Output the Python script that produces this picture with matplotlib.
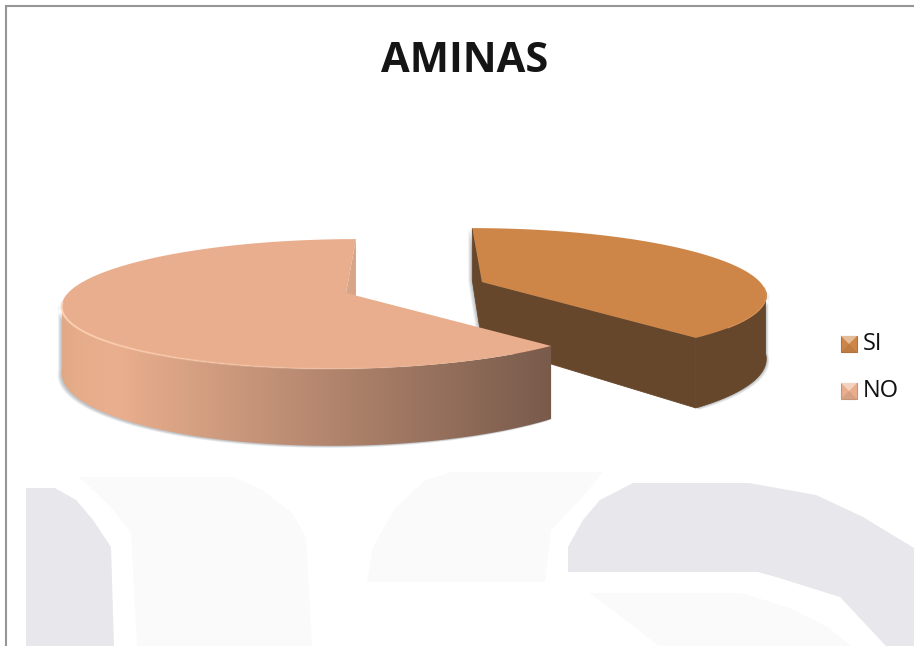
import numpy as np
import matplotlib
matplotlib.use("Agg")
import matplotlib.pyplot as plt
from matplotlib.colors import to_rgb
from matplotlib.patches import Polygon, Rectangle

# data
categories = ["SI", "NO"]
values = [39, 61]
top_colors = ["#CE8648", "#E9AE8D"]
title = "AMINAS"

# pie geometry (pixels)
centers = [(482, 282), (346, 293)]
heights = [61, 64]
A, B, P, VX = 278, 63, 0.169, 415
START = 90
GAP = 3

# watermark behind the chart
wm_dark = "#E7E7EC"
wm_light = "#FAFAFB"
wm_shapes = [
    (wm_dark, [(26, 488), (55, 488), (76, 500), (93, 520), (111, 547), (114, 646), (26, 646)]),
    (wm_light, [(79, 477), (233, 477), (262, 490), (292, 513), (306, 537), (312, 646), (137, 646), (131, 533), (111, 507)]),
    (wm_light, [(452, 472), (603, 472), (577, 503), (551, 530), (545, 582), (367, 582), (373, 547), (396, 507), (426, 480)]),
    (wm_dark, [(568, 572), (568, 547), (583, 520), (600, 500), (633, 483), (749, 483), (816, 495), (863, 517), (914, 548), (914, 646), (886, 646), (840, 597), (776, 577), (758, 572)]),
    (wm_light, [(589, 593), (741, 593), (787, 607), (828, 627), (851, 646), (659, 646), (612, 610)]),
]


def project(center, theta, height):
    # perspective view of a point on the pie rim
    theta = np.radians(theta)
    s = -np.sin(theta)
    w = 1 - P * s
    x = center[0] + (A * np.cos(theta) + (center[0] - VX) * P * s) / w
    y = center[1] + B * s / w
    return x, y, height / w


def arc(center, a0, a1, height=0):
    th = np.linspace(a0, a1, 160)
    x, y, h = project(center, th, height)
    return np.column_stack([x, y + h])


def wall(center, a0, a1, height):
    return np.vstack([arc(center, a0, a1), arc(center, a1, a0, height)])


def shadow(pts, dx, dy, n=5):
    for k in range(1, n + 1):
        ax.add_patch(Polygon(pts + [dx * k / n, dy * k / n], fc="#6F7880", ec="none", alpha=0.11))


fig = plt.figure(figsize=(9.14, 6.46), dpi=100)
ax = fig.add_axes([0, 0, 1, 1])
ax.set_xlim(0, 914)
ax.set_ylim(646, 0)
ax.axis("off")

for col, pts in wm_shapes:
    ax.add_patch(Polygon(pts, fc=col, ec="none"))

# page frame: only the top and left lines show
ax.plot([6, 6, 914], [646, 6, 6], color="#969696", lw=1.5, solid_joinstyle="miter")

shares = np.array(values) / sum(values) * 360
ends = START - np.cumsum(shares)
starts = ends + shares

# SI slice
c = centers[0]
H = heights[0]
a0, a1 = starts[0], ends[0]
outer = wall(c, a1, -8, H)
shadow(outer, 3, 2)
x0, y0, h0 = project(c, a0, H)
x1, y1, h1 = project(c, a1, H)
left_face = [(x0, y0), (x0, y0 + h0), (c[0], c[1] + H), (c[0], c[1])]
shadow(np.array(left_face), -4, 1)
wall_col = "#67472B"
ax.add_patch(Polygon(outer, fc=wall_col, ec=wall_col, lw=0.6))
ax.add_patch(Polygon(left_face, fc=wall_col, ec=wall_col, lw=0.6))
ax.add_patch(Polygon([(c[0], c[1]), (x1, y1), (x1, y1 + h1), (c[0], c[1] + H)], fc=wall_col, ec=wall_col, lw=0.6))
ax.add_patch(Polygon(np.vstack([[c], arc(c, a0, a1)]), fc=top_colors[0], ec="none"))
ax.plot(*arc(c, a1 + 45, a1 + 10).T, color="#D8935A", lw=0.8)

# NO slice
c = centers[1]
H = heights[1]
a0, a1 = starts[1] + GAP, ends[1]
x0, y0, h0 = project(c, a0, H)
x1, y1, h1 = project(c, a1, H)
outer = wall(c, a0, -171, H)
shadow(outer, -4, 2)
ax.add_patch(Polygon([(x1, y1), (x1, y1 + h1), (c[0], c[1] + H), (c[0], c[1])], fc="#D9A588", ec="none"))

stops_x = [60, 75, 115, 552]
stops_c = np.array([to_rgb(v) for v in ["#E0A886", "#E6AC8A", "#EAAF8E", "#785A4B"]])
xs = np.arange(50, 560)
grad = np.stack([np.interp(xs, stops_x, stops_c[:, i]) for i in range(3)], axis=1)[np.newaxis, :, :]
im = ax.imshow(grad, extent=(50, 560, 460, 290), aspect="auto", interpolation="bilinear", zorder=2)
clip = Polygon(outer, transform=ax.transData, fc="none", ec="none")
im.set_clip_path(clip)
ax.set_xlim(0, 914)
ax.set_ylim(646, 0)

ax.add_patch(Polygon(np.vstack([[c], arc(c, a0, a1)]), fc=top_colors[1], ec="none", zorder=3))
# highlight along the front rim, fading to the right
rim = np.linspace(-172, -75, 21)
for i in range(20):
    ax.plot(*arc(c, rim[i], rim[i + 1]).T, color="#FFD6B8", lw=1.4, alpha=1 - i / 20,
            zorder=4, solid_capstyle="butt")

# title
ax.text(465, 61, title, ha="center", va="center", fontsize=30, fontweight="bold",
        family="Open Sans", color="#151515")


# legend
def bevel(x, y, col, size=16):
    base = np.array(to_rgb(col))
    light = base + (1 - base) * 0.45
    dark = base * 0.85
    ax.add_patch(Rectangle((x, y), size, size, fc=base, ec=dark, lw=0.8, zorder=5))
    m = size * 0.5
    ax.add_patch(Polygon([(x, y), (x + size, y), (x + m, y + m)], fc=light, ec="none", zorder=6))
    ax.add_patch(Polygon([(x, y + size), (x + size, y + size), (x + m, y + m)], fc=base * 0.92, ec="none", zorder=6))


legend_y = [336, 383]
for name, col, ly in zip(categories, top_colors, legend_y):
    bevel(841, ly, col)
    ax.text(863, ly + 8, name, ha="left", va="center", fontsize=17, family="Open Sans", color="#111111", zorder=6)

fig.savefig("out.png", dpi=100)
